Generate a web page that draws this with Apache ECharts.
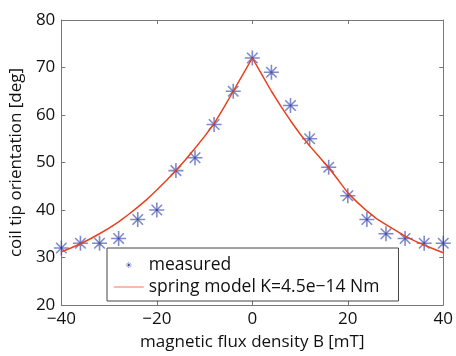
<!DOCTYPE html>
<html><head><meta charset="utf-8">
<script src="https://cdn.jsdelivr.net/npm/echarts@6/dist/echarts.min.js"></script>
<style>html,body{margin:0;padding:0;background:#fff}#c{width:456px;height:356px}</style>
</head><body><div id="c"></div>
<script>
const measuredB = [-40,-36,-32,-28,-24,-20,-16,-12,-8,-4,0,4,8,12,16,20,24,28,32,36,40];
const measuredDeg = [32,33,33,34,38,40,48.3,51,58,65,72,69,62,55,49,43,38,35,34,33,33];
const modelB = [-40,-38,-36,-34,-32,-30,-28,-26,-24,-22,-20,-18,-16,-14,-12,-10,-8,-6,-4,-2,0,2,4,6,8,10,12,14,16,18,20,22,24,26,28,30,32,34,36,38,40];
const modelDeg = [31.2,32,32.9,33.9,35,36.2,37.5,39,40.6,42.3,44.2,46.2,48.3,50.6,53,55.5,58.2,61.5,65,68.5,72,68.5,65,61.8,58.8,56,53.5,51.2,48.9,46.3,43.6,41.6,39.8,38.2,36.9,35.7,34.5,33.5,32.6,31.8,31];
const xTicks = {min:-40, max:40, interval:20};
const yTicks = {min:20, max:80, interval:10};
const legendNames = ['measured','spring model K=4.5e\u221214 Nm'];

const star = 'path://M0,10L20,10M10,0L10,20M3,3L17,17M17,3L3,17M8.6,8.6L11.4,8.6L11.4,11.4L8.6,11.4Z';
const fmt = v => String(v).replace('-', '\u2212');
const font = '"Open Sans", "DejaVu Sans", sans-serif';
const axisCommon = {
  axisLine:{show:true, onZero:false, lineStyle:{color:'#777', width:1}},
  axisTick:{show:true, inside:true, length:4, lineStyle:{color:'#777'}},
  splitLine:{show:false}
};
const chart = echarts.init(document.getElementById('c'));
chart.setOption({
  animation:false,
  backgroundColor:'#fff',
  grid:{left:59, right:9, top:20, bottom:43, show:false},
  xAxis:[
    Object.assign({type:'value', position:'bottom', min:xTicks.min, max:xTicks.max, interval:xTicks.interval,
      name:'magnetic flux density B [mT]', nameLocation:'middle', nameGap:29,
      nameTextStyle:{fontSize:17, color:'#111', fontFamily:font},
      axisLabel:{fontSize:17, color:'#111', fontFamily:font, margin:6, formatter:fmt}}, axisCommon),
    Object.assign({type:'value', position:'top', min:xTicks.min, max:xTicks.max, interval:xTicks.interval,
      axisLabel:{show:false}}, axisCommon)
  ],
  yAxis:[
    Object.assign({type:'value', position:'left', min:yTicks.min, max:yTicks.max, interval:yTicks.interval,
      name:'coil tip orientation [deg]', nameLocation:'middle', nameGap:25,
      nameTextStyle:{fontSize:17, color:'#111', fontFamily:font},
      axisLabel:{fontSize:17, color:'#111', fontFamily:font, margin:6, formatter:fmt}}, axisCommon),
    Object.assign({type:'value', position:'right', min:yTicks.min, max:yTicks.max, interval:yTicks.interval,
      axisLabel:{show:false}}, axisCommon)
  ],
  legend:{
    orient:'vertical', left:107, top:248,
    backgroundColor:'#fff', borderColor:'#444', borderWidth:1, borderRadius:0,
    padding:[8,19,5,6], itemGap:4, itemWidth:30, itemHeight:6,
    textStyle:{fontSize:17.5, color:'#111', fontFamily:font},
    data:[
      {name:legendNames[0], icon:star, itemStyle:{color:'#2a3a9c', borderColor:'#2a3a9c', borderWidth:0.6}},
      {name:legendNames[1], itemStyle:{opacity:0}, lineStyle:{color:'#f6a487', width:1.5, opacity:1}}
    ]
  },
  series:[
    {
      name:legendNames[1], type:'line', symbol:'none', smooth:false,
      data: modelB.map((b,i)=>[b, modelDeg[i]]),
      lineStyle:{color:'#e8401c', width:1.5}, itemStyle:{color:'#e8401c'}, z:3
    },
    {
      name:legendNames[0], type:'scatter', symbol:star, symbolSize:15,
      data: measuredB.map((b,i)=>[b, measuredDeg[i]]),
      itemStyle:{color:'rgba(30,45,150,0.95)', borderColor:'rgba(45,60,165,0.75)', borderWidth:1.6}, z:2
    }
  ]
});
</script></body></html>
